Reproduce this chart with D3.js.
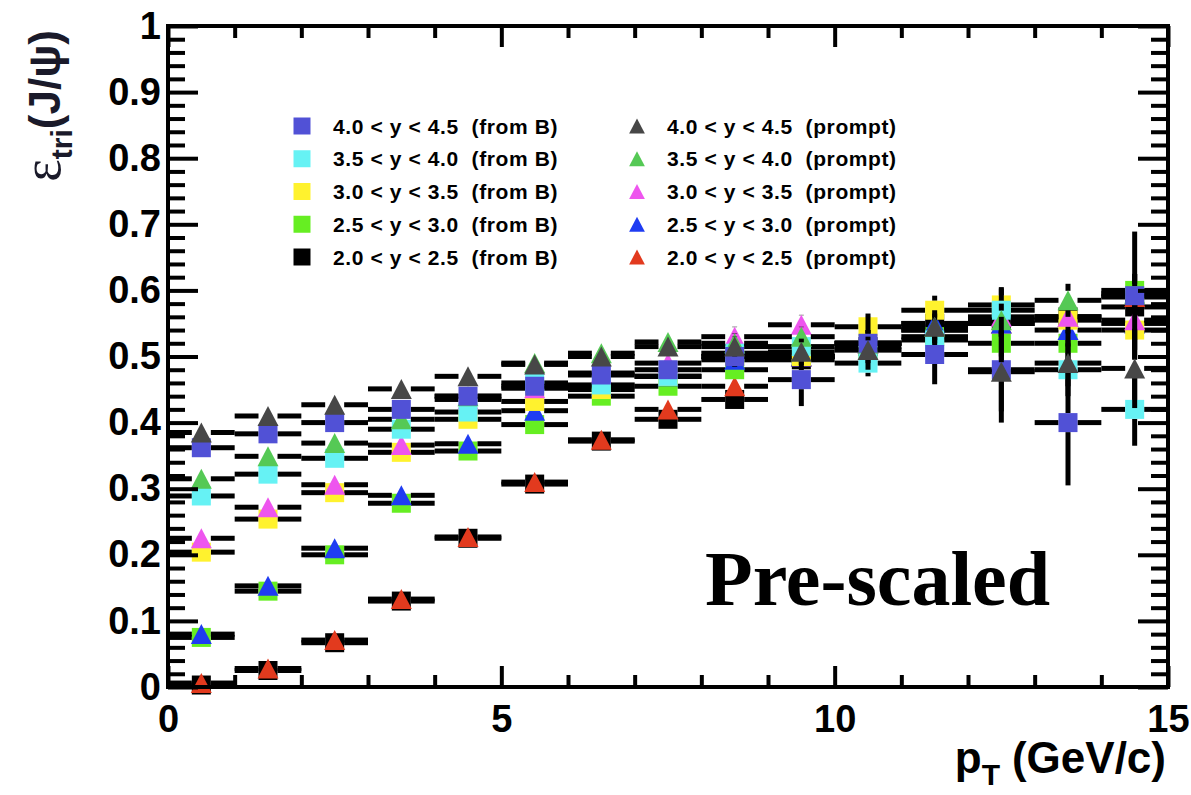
<!DOCTYPE html>
<html>
<head>
<meta charset="utf-8">
<script src="https://cdn.jsdelivr.net/npm/d3@7"></script>
<style>
  body { margin: 0; background: #fff; }
  svg { display: block; }
</style>
</head>
<body>
<svg id="chart" width="1191" height="795"></svg>
<script>
// pT bins (GeV/c): bin centres and half-width
const ptCenters = [0.5, 1.5, 2.5, 3.5, 4.5, 5.5, 6.5, 7.5, 8.5, 9.5, 10.5, 11.5, 12.5, 13.5, 14.5];
const ptHalfWidth = 0.5;

// trigger efficiency, J/psi from B
const effB_40_45 = [0.362, 0.383, 0.400, 0.420, 0.440, 0.455, 0.472, 0.480, 0.500, 0.465, 0.520, 0.503, 0.480, 0.400, 0.592];
const effB_35_40 = [0.289, 0.322, 0.346, 0.390, 0.416, 0.460, 0.457, 0.470, 0.505, 0.515, 0.490, 0.525, 0.570, 0.480, 0.420];
const effB_30_35 = [0.204, 0.254, 0.294, 0.355, 0.405, 0.432, 0.450, 0.470, 0.500, 0.500, 0.545, 0.570, 0.578, 0.555, 0.540];
const effB_25_30 = [0.075, 0.145, 0.200, 0.278, 0.357, 0.397, 0.440, 0.455, 0.480, 0.500, 0.510, 0.530, 0.520, 0.520, 0.600];
const effB_20_25 = [0.003, 0.025, 0.067, 0.130, 0.225, 0.307, 0.372, 0.405, 0.435, 0.495, 0.515, 0.550, 0.555, 0.560, 0.575];

// trigger efficiency, prompt J/psi
const effP_40_45 = [0.385, 0.410, 0.427, 0.451, 0.470, 0.488, 0.500, 0.515, 0.515, 0.507, 0.510, 0.545, 0.477, 0.490, 0.482];
const effP_35_40 = [0.315, 0.349, 0.369, 0.405, 0.440, 0.490, 0.505, 0.522, 0.520, 0.530, 0.520, 0.545, 0.555, 0.585, 0.595];
const effP_30_35 = [0.225, 0.272, 0.306, 0.366, 0.435, 0.452, 0.475, 0.490, 0.530, 0.548, 0.520, 0.540, 0.560, 0.560, 0.555];
const effP_25_30 = [0.080, 0.153, 0.210, 0.290, 0.368, 0.418, 0.455, 0.470, 0.495, 0.500, 0.520, 0.550, 0.550, 0.540, 0.550];
const effP_20_25 = [0.006, 0.028, 0.071, 0.133, 0.227, 0.310, 0.374, 0.420, 0.455, 0.500, 0.520, 0.540, 0.550, 0.560, 0.590];

// statistical uncertainties
const errB_40_45 = [0.005, 0.005, 0.005, 0.006, 0.007, 0.008, 0.010, 0.012, 0.015, 0.040, 0.040, 0.045, 0.080, 0.095, 0.097];
const errB_35_40 = [0.005, 0.005, 0.005, 0.006, 0.007, 0.008, 0.010, 0.012, 0.015, 0.020, 0.020, 0.025, 0.035, 0.040, 0.055];
const errB_30_35 = [0.005, 0.005, 0.005, 0.006, 0.007, 0.008, 0.010, 0.012, 0.015, 0.015, 0.020, 0.022, 0.025, 0.030, 0.030];
const errB_25_30 = [0.005, 0.005, 0.005, 0.006, 0.007, 0.008, 0.010, 0.012, 0.012, 0.015, 0.015, 0.020, 0.020, 0.025, 0.025];
const errB_20_25 = [0.003, 0.004, 0.005, 0.006, 0.007, 0.008, 0.008, 0.010, 0.012, 0.012, 0.015, 0.020, 0.020, 0.020, 0.020];
const errP_40_45 = [0.005, 0.005, 0.005, 0.006, 0.007, 0.008, 0.010, 0.012, 0.015, 0.020, 0.020, 0.025, 0.060, 0.035, 0.060];
const errP_35_40 = [0.005, 0.005, 0.005, 0.006, 0.007, 0.008, 0.010, 0.012, 0.015, 0.015, 0.020, 0.020, 0.025, 0.025, 0.030];
const errP_30_35 = [0.005, 0.005, 0.005, 0.006, 0.007, 0.008, 0.010, 0.012, 0.015, 0.015, 0.020, 0.020, 0.025, 0.025, 0.030];
const errP_25_30 = [0.005, 0.005, 0.005, 0.006, 0.007, 0.008, 0.010, 0.012, 0.012, 0.015, 0.015, 0.020, 0.020, 0.025, 0.025];
const errP_20_25 = [0.003, 0.004, 0.005, 0.006, 0.007, 0.008, 0.008, 0.010, 0.012, 0.012, 0.015, 0.020, 0.020, 0.020, 0.020];

// legend text and marker colours
const labelsB = ["4.0 < y < 4.5  (from B)", "3.5 < y < 4.0  (from B)", "3.0 < y < 3.5  (from B)", "2.5 < y < 3.0  (from B)", "2.0 < y < 2.5  (from B)"];
const labelsP = ["4.0 < y < 4.5  (prompt)", "3.5 < y < 4.0  (prompt)", "3.0 < y < 3.5  (prompt)", "2.5 < y < 3.0  (prompt)", "2.0 < y < 2.5  (prompt)"];
const colorsB = ["#5151d6", "#66f2f4", "#fff22e", "#66ee22", "#000000"];
const colorsP = ["#474747", "#55c955", "#ee55ee", "#1f3cf2", "#e23a1e"];

// axis ticks
const yMajorTicks = [0, 0.1, 0.2, 0.3, 0.4, 0.5, 0.6, 0.7, 0.8, 0.9, 1];
const yTickLabels = ["0", "0.1", "0.2", "0.3", "0.4", "0.5", "0.6", "0.7", "0.8", "0.9", "1"];
const xMajorTicks = [0, 5, 10, 15];
const xTickLabels = ["0", "5", "10", "15"];

const seriesB = [
  { label: labelsB[0], color: colorsB[0], values: effB_40_45, errors: errB_40_45, shape: "square" },
  { label: labelsB[1], color: colorsB[1], values: effB_35_40, errors: errB_35_40, shape: "square" },
  { label: labelsB[2], color: colorsB[2], values: effB_30_35, errors: errB_30_35, shape: "square" },
  { label: labelsB[3], color: colorsB[3], values: effB_25_30, errors: errB_25_30, shape: "square" },
  { label: labelsB[4], color: colorsB[4], values: effB_20_25, errors: errB_20_25, shape: "square" }
];
const seriesP = [
  { label: labelsP[0], color: colorsP[0], values: effP_40_45, errors: errP_40_45, shape: "triangle" },
  { label: labelsP[1], color: colorsP[1], values: effP_35_40, errors: errP_35_40, shape: "triangle" },
  { label: labelsP[2], color: colorsP[2], values: effP_30_35, errors: errP_30_35, shape: "triangle" },
  { label: labelsP[3], color: colorsP[3], values: effP_25_30, errors: errP_25_30, shape: "triangle" },
  { label: labelsP[4], color: colorsP[4], values: effP_20_25, errors: errP_20_25, shape: "triangle" }
];

const svg = d3.select("#chart");
const frame = { left: 168, right: 1168, top: 26, bottom: 687 };

const x = d3.scaleLinear().domain([0, 15]).range([frame.left, frame.right]);
const y = d3.scaleLinear().domain([0, 1]).range([frame.bottom, frame.top]);

const tickFont = "bold 38px 'Liberation Sans', Arial, Helvetica, sans-serif";

// marker shapes
const triangleUp = {
  draw(ctx, size) {
    const r = Math.sqrt(size) / 2;
    ctx.moveTo(0, -r);
    ctx.lineTo(r * 1.05, r);
    ctx.lineTo(-r * 1.05, r);
    ctx.closePath();
  }
};
const markerSize = 19;
const squareShape = d3.symbol(d3.symbolSquare, markerSize * markerSize);
const triangleShape = d3.symbol(triangleUp, 20 * 20);
const half = markerSize / 2;

// graphs are drawn rapidity bin by rapidity bin: from-B then prompt,
// lowest rapidity first, each graph with its own error bars and markers
const drawOrder = [];
for (let k = seriesB.length - 1; k >= 0; k--) {
  drawOrder.push(seriesB[k], seriesP[k]);
}

const plot = svg.append("g");
const graphs = plot.selectAll("g.graph").data(drawOrder).join("g").attr("class", "graph");

graphs.each(function (s) {
  const g = d3.select(this);
  const pts = s.values.map((v, i) => ({ pt: ptCenters[i], v, e: s.errors[i] }));

  // horizontal bars: bin width, interrupted by the marker
  g.selectAll("line.hl").data(pts).join("line").attr("class", "hl")
    .attr("x1", d => x(d.pt - ptHalfWidth)).attr("x2", d => x(d.pt) - half)
    .attr("y1", d => y(d.v)).attr("y2", d => y(d.v));
  g.selectAll("line.hr").data(pts).join("line").attr("class", "hr")
    .attr("x1", d => x(d.pt) + half).attr("x2", d => x(d.pt + ptHalfWidth))
    .attr("y1", d => y(d.v)).attr("y2", d => y(d.v));

  // vertical bars outside the marker
  const longErr = pts.filter(d => y(d.v - d.e) - y(d.v + d.e) > 2 * half);
  g.selectAll("line.vu").data(longErr).join("line").attr("class", "vu")
    .attr("x1", d => x(d.pt)).attr("x2", d => x(d.pt))
    .attr("y1", d => y(d.v + d.e)).attr("y2", d => y(d.v) - half);
  g.selectAll("line.vd").data(longErr).join("line").attr("class", "vd")
    .attr("x1", d => x(d.pt)).attr("x2", d => x(d.pt))
    .attr("y1", d => y(d.v) + half).attr("y2", d => y(Math.max(0, d.v - d.e)));

  g.selectAll("line").attr("stroke", "#000").attr("stroke-width", 5);

  g.selectAll("path").data(pts).join("path")
    .attr("transform", d => `translate(${x(d.pt)},${y(d.v)})`)
    .attr("d", s.shape === "square" ? squareShape() : triangleShape())
    .attr("fill", s.color);
});

// frame
svg.append("rect")
  .attr("x", frame.left).attr("y", frame.top)
  .attr("width", frame.right - frame.left).attr("height", frame.bottom - frame.top)
  .attr("fill", "none").attr("stroke", "#000").attr("stroke-width", 4);

const yMinorTicks = d3.range(0, 1.0001, 0.02).filter(v => Math.abs(v * 10 - Math.round(v * 10)) > 1e-6);
const xMinorTicks = d3.range(0, 15.0001, 1).filter(v => v % 5 !== 0);

function styleAxis(g) {
  g.select(".domain").remove();
  g.selectAll(".tick line").attr("stroke", "#000").attr("stroke-width", 4);
  g.selectAll(".tick text").style("font", tickFont).attr("fill", "#000");
}

// left axis
svg.append("g").attr("transform", `translate(${frame.left},0)`)
  .call(d3.axisLeft(y).tickValues(yMajorTicks).tickSize(-30).tickPadding(7)
    .tickFormat((d, i) => yTickLabels[i]))
  .call(styleAxis);
svg.append("g").attr("transform", `translate(${frame.left},0)`)
  .call(d3.axisLeft(y).tickValues(yMinorTicks).tickSize(-17).tickFormat(""))
  .call(styleAxis);

// right axis ticks
svg.append("g").attr("transform", `translate(${frame.right},0)`)
  .call(d3.axisRight(y).tickValues(yMajorTicks).tickSize(-30).tickFormat(""))
  .call(styleAxis);
svg.append("g").attr("transform", `translate(${frame.right},0)`)
  .call(d3.axisRight(y).tickValues(yMinorTicks).tickSize(-17).tickFormat(""))
  .call(styleAxis);

// bottom axis
svg.append("g").attr("transform", `translate(0,${frame.bottom})`)
  .call(d3.axisBottom(x).tickValues(xMajorTicks).tickSize(-21).tickPadding(18)
    .tickFormat((d, i) => xTickLabels[i]))
  .call(styleAxis);
svg.append("g").attr("transform", `translate(0,${frame.bottom})`)
  .call(d3.axisBottom(x).tickValues(xMinorTicks).tickSize(-12).tickFormat(""))
  .call(styleAxis);

// top axis ticks
svg.append("g").attr("transform", `translate(0,${frame.top})`)
  .call(d3.axisTop(x).tickValues(xMajorTicks).tickSize(-21).tickFormat(""))
  .call(styleAxis);
svg.append("g").attr("transform", `translate(0,${frame.top})`)
  .call(d3.axisTop(x).tickValues(xMinorTicks).tickSize(-12).tickFormat(""))
  .call(styleAxis);

// axis titles
const xTitle = svg.append("text")
  .attr("x", frame.right - 2).attr("y", 773)
  .attr("text-anchor", "end")
  .style("font", "bold 44px 'Liberation Sans', Arial, Helvetica, sans-serif")
  .attr("fill", "#000");
xTitle.append("tspan").text("p");
xTitle.append("tspan").attr("dy", 12).style("font-size", "30px").text("T");
xTitle.append("tspan").attr("dy", -12).attr("dx", 12).text("(GeV/c)");

const yTitle = svg.append("text")
  .attr("transform", "translate(60,30) rotate(-90)")
  .attr("text-anchor", "end")
  .style("font", "bold 44px 'Liberation Sans', Arial, Helvetica, sans-serif")
  .attr("fill", "#1a1a2a");
yTitle.append("tspan").style("font-family", "'Liberation Serif', 'DejaVu Serif', serif")
  .style("font-weight", "normal").style("font-size", "54px").text("ε");
yTitle.append("tspan").attr("dy", 12).style("font-size", "30px").text("tri");
yTitle.append("tspan").attr("dy", -12).text("(J/ψ)");

// legend
const legendFont = "bold 21px 'Liberation Sans', Arial, Helvetica, sans-serif";
const legendRowY = d3.scaleLinear().domain([0, 4]).range([126, 257]);

const legB = svg.append("g").selectAll("g").data(seriesB).join("g")
  .attr("transform", (d, i) => `translate(302,${legendRowY(i)})`);
legB.append("path").attr("d", d3.symbol(d3.symbolSquare, 17 * 17)()).attr("fill", d => d.color);
legB.append("text").attr("x", 31).attr("dy", "0.36em")
  .attr("xml:space", "preserve")
  .style("font", legendFont).style("letter-spacing", "0.6px")
  .text(d => d.label);

const legP = svg.append("g").selectAll("g").data(seriesP).join("g")
  .attr("transform", (d, i) => `translate(637,${legendRowY(i)})`);
legP.append("path").attr("d", d3.symbol(triangleUp, 15 * 15)()).attr("fill", d => d.color);
legP.append("text").attr("x", 30).attr("dy", "0.36em")
  .attr("xml:space", "preserve")
  .style("font", legendFont).style("letter-spacing", "0.6px")
  .text(d => d.label);

// annotation
svg.append("text")
  .attr("x", 705).attr("y", 605)
  .style("font", "bold 78px 'Liberation Serif', 'Times New Roman', serif")
  .attr("fill", "#000")
  .text("Pre-scaled");
</script>
</body>
</html>
